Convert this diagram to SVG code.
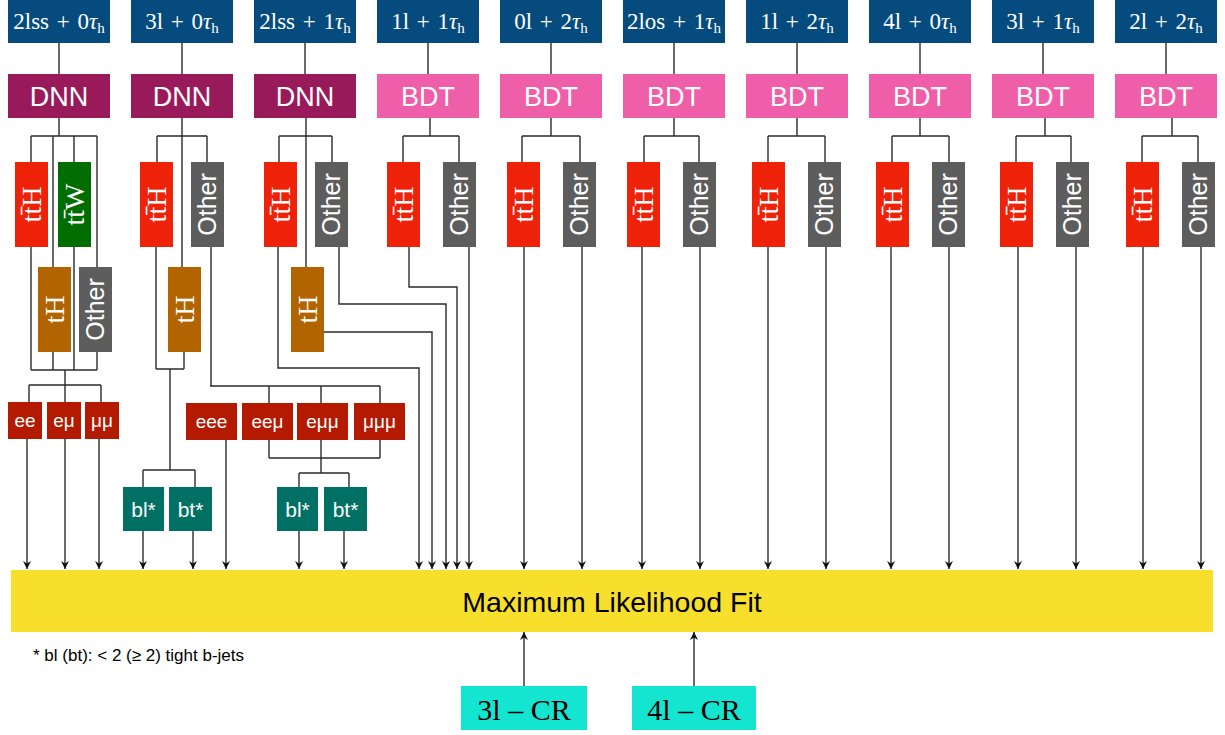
<svg xmlns="http://www.w3.org/2000/svg" width="1225" height="735" viewBox="0 0 1225 735">
<style>
.hdr{fill:#064b7d}
.dnn{fill:#991a5a}
.bdt{fill:#ef5ea8}
.tth{fill:#ee2109}
.ttw{fill:#006d00}
.th{fill:#b26400}
.oth{fill:#5d5d5d}
.ch{fill:#b31a00}
.bj{fill:#007065}
.fit{fill:#f8df2b}
.cr{fill:#14e5d0}
.serif{font-family:"Liberation Serif","Times New Roman",serif}
.sans{font-family:"Liberation Sans",Arial,sans-serif}
.w{fill:#ffffff}
.ht{font-size:23px;text-anchor:middle;word-spacing:2px}
.ct{font-size:27px;text-anchor:middle}
.rs{font-size:28px;text-anchor:middle}
.ro{font-size:25px;text-anchor:middle}
.lt{font-size:19px;text-anchor:middle}
.bt{font-size:21px;text-anchor:middle}
.sub{font-size:15px}
.ln{fill:none;stroke:#2b2b2b;stroke-width:1.4}
.ar{fill:none;stroke:#2b2b2b;stroke-width:1.4;marker-end:url(#ah)}
</style>
<defs>
<marker id="ah" markerUnits="userSpaceOnUse" markerWidth="9" markerHeight="9" refX="8" refY="4" orient="auto">
<path d="M0,0 L8,4 L0,8 L2.5,4 z" fill="#111"/>
</marker>
</defs>
<g id="connectors">
<path class="ln" d="M59 43V74 M182 43V74 M305 43V74 M428 43V74 M551 43V74 M674 43V74 M797 43V74 M920 43V74 M1043 43V74 M1166 43V74"/>
<path class="ln" d="M59 118V136 M31 136H97 M31 136V370 M53 136V370 M74 136V370 M97 136V370 M31 370H97 M65 370V385 M29 385H101 M29 385V402 M65 385V402 M101 385V402"/>
<path class="ar" d="M27 439V569"/>
<path class="ar" d="M65 439V569"/>
<path class="ar" d="M99 439V569"/>
<path class="ln" d="M182 118V267 M157 136H207 M157 136V162 M207 136V162 M156 247V369 M184 352V369 M156 369H184 M170 369V470 M143 470H195 M143 470V487 M195 470V487"/>
<path class="ar" d="M143 531V569"/>
<path class="ar" d="M193 531V569"/>
<path class="ln" d="M211 247V386 M210 386H380 M269 386V403 M321 386V403 M380 386V403 M269 440V458 M380 440V458 M269 458H380 M321 440V473 M299 473H349 M299 473V487 M349 473V487"/>
<path class="ar" d="M226 440V569"/>
<path class="ar" d="M299 531V569"/>
<path class="ar" d="M344 531V569"/>
<path class="ln" d="M306 118V267 M279 136H332 M279 136V162 M332 136V162"/>
<path class="ar" d="M278 247V368H419V569"/>
<path class="ar" d="M339 247V304H446V569"/>
<path class="ar" d="M324 332H432V569"/>
<path class="ln" d="M430 118V136 M403 136H459 M403 136V162 M459 136V162"/>
<path class="ar" d="M409 247V287H457V569"/>
<path class="ar" d="M469 247V569"/>
<path class="ln" d="M551 118V136 M522 136H580 M522 136V162 M580 136V162"/>
<path class="ar" d="M524 247V569"/>
<path class="ar" d="M582 247V569"/>
<path class="ln" d="M674 118V136 M644 136H699 M644 136V162 M699 136V162"/>
<path class="ar" d="M642 247V569"/>
<path class="ar" d="M700 247V569"/>
<path class="ln" d="M797 118V136 M768 136H825 M768 136V162 M825 136V162"/>
<path class="ar" d="M768 247V569"/>
<path class="ar" d="M826 247V569"/>
<path class="ln" d="M920 118V136 M892 136H949 M892 136V162 M949 136V162"/>
<path class="ar" d="M891 247V569"/>
<path class="ar" d="M949 247V569"/>
<path class="ln" d="M1045 118V136 M1016 136H1071 M1016 136V162 M1071 136V162"/>
<path class="ar" d="M1018 247V569"/>
<path class="ar" d="M1076 247V569"/>
<path class="ln" d="M1172 118V136 M1142 136H1198 M1142 136V162 M1198 136V162"/>
<path class="ar" d="M1143 247V569"/>
<path class="ar" d="M1201 247V569"/>
<path class="ar" d="M524 686V632"/>
<path class="ar" d="M694 686V632"/>
</g>
<g id="h1"><rect class="hdr" x="8" y="0" width="102" height="43"/><text class="serif w ht" x="59" y="29">2lss + 0<tspan font-style="italic">τ</tspan><tspan class="sub" dy="4">h</tspan></text></g>
<g id="h2"><rect class="hdr" x="131" y="0" width="102" height="43"/><text class="serif w ht" x="182" y="29">3l + 0<tspan font-style="italic">τ</tspan><tspan class="sub" dy="4">h</tspan></text></g>
<g id="h3"><rect class="hdr" x="254" y="0" width="102" height="43"/><text class="serif w ht" x="305" y="29">2lss + 1<tspan font-style="italic">τ</tspan><tspan class="sub" dy="4">h</tspan></text></g>
<g id="h4"><rect class="hdr" x="377" y="0" width="102" height="43"/><text class="serif w ht" x="428" y="29">1l + 1<tspan font-style="italic">τ</tspan><tspan class="sub" dy="4">h</tspan></text></g>
<g id="h5"><rect class="hdr" x="500" y="0" width="102" height="43"/><text class="serif w ht" x="551" y="29">0l + 2<tspan font-style="italic">τ</tspan><tspan class="sub" dy="4">h</tspan></text></g>
<g id="h6"><rect class="hdr" x="623" y="0" width="102" height="43"/><text class="serif w ht" x="674" y="29">2los + 1<tspan font-style="italic">τ</tspan><tspan class="sub" dy="4">h</tspan></text></g>
<g id="h7"><rect class="hdr" x="746" y="0" width="102" height="43"/><text class="serif w ht" x="797" y="29">1l + 2<tspan font-style="italic">τ</tspan><tspan class="sub" dy="4">h</tspan></text></g>
<g id="h8"><rect class="hdr" x="869" y="0" width="102" height="43"/><text class="serif w ht" x="920" y="29">4l + 0<tspan font-style="italic">τ</tspan><tspan class="sub" dy="4">h</tspan></text></g>
<g id="h9"><rect class="hdr" x="992" y="0" width="102" height="43"/><text class="serif w ht" x="1043" y="29">3l + 1<tspan font-style="italic">τ</tspan><tspan class="sub" dy="4">h</tspan></text></g>
<g id="h10"><rect class="hdr" x="1115" y="0" width="102" height="43"/><text class="serif w ht" x="1166" y="29">2l + 2<tspan font-style="italic">τ</tspan><tspan class="sub" dy="4">h</tspan></text></g>
<g id="c1"><rect class="dnn" x="8" y="74" width="102" height="44"/><text class="sans w ct" x="59" y="106">DNN</text></g>
<g id="c2"><rect class="dnn" x="131" y="74" width="102" height="44"/><text class="sans w ct" x="182" y="106">DNN</text></g>
<g id="c3"><rect class="dnn" x="254" y="74" width="102" height="44"/><text class="sans w ct" x="305" y="106">DNN</text></g>
<g id="c4"><rect class="bdt" x="377" y="74" width="102" height="44"/><text class="sans w ct" x="428" y="106">BDT</text></g>
<g id="c5"><rect class="bdt" x="500" y="74" width="102" height="44"/><text class="sans w ct" x="551" y="106">BDT</text></g>
<g id="c6"><rect class="bdt" x="623" y="74" width="102" height="44"/><text class="sans w ct" x="674" y="106">BDT</text></g>
<g id="c7"><rect class="bdt" x="746" y="74" width="102" height="44"/><text class="sans w ct" x="797" y="106">BDT</text></g>
<g id="c8"><rect class="bdt" x="869" y="74" width="102" height="44"/><text class="sans w ct" x="920" y="106">BDT</text></g>
<g id="c9"><rect class="bdt" x="992" y="74" width="102" height="44"/><text class="sans w ct" x="1043" y="106">BDT</text></g>
<g id="c10"><rect class="bdt" x="1115" y="74" width="102" height="44"/><text class="sans w ct" x="1166" y="106">BDT</text></g>
<g id="c1-tth"><rect class="tth" x="15" y="162" width="33" height="85"/><text class="serif w rs" transform="translate(41 204.5) rotate(-90)">tt̄H</text></g>
<g id="c1-ttw"><rect class="ttw" x="58" y="162" width="33" height="85"/><text class="serif w rs" transform="translate(84 204.5) rotate(-90)">tt̄W</text></g>
<g id="c1-th"><rect class="th" x="38" y="267" width="33" height="85"/><text class="serif w rs" transform="translate(64 309.5) rotate(-90)">tH</text></g>
<g id="c1-oth"><rect class="oth" x="79" y="267" width="33" height="85"/><text class="sans w ro" transform="translate(104 309.5) rotate(-90)">Other</text></g>
<g id="c2-tth"><rect class="tth" x="140" y="162" width="33" height="85"/><text class="serif w rs" transform="translate(166 204.5) rotate(-90)">tt̄H</text></g>
<g id="c2-oth"><rect class="oth" x="191" y="162" width="33" height="85"/><text class="sans w ro" transform="translate(216 204.5) rotate(-90)">Other</text></g>
<g id="c2-th"><rect class="th" x="168" y="267" width="33" height="85"/><text class="serif w rs" transform="translate(194 309.5) rotate(-90)">tH</text></g>
<g id="c3-tth"><rect class="tth" x="264" y="162" width="33" height="85"/><text class="serif w rs" transform="translate(290 204.5) rotate(-90)">tt̄H</text></g>
<g id="c3-oth"><rect class="oth" x="315" y="162" width="33" height="85"/><text class="sans w ro" transform="translate(340 204.5) rotate(-90)">Other</text></g>
<g id="c3-th"><rect class="th" x="291" y="267" width="33" height="85"/><text class="serif w rs" transform="translate(317 309.5) rotate(-90)">tH</text></g>
<g id="c4-tth"><rect class="tth" x="387" y="162" width="33" height="85"/><text class="serif w rs" transform="translate(413 204.5) rotate(-90)">tt̄H</text></g>
<g id="c4-oth"><rect class="oth" x="443" y="162" width="33" height="85"/><text class="sans w ro" transform="translate(468 204.5) rotate(-90)">Other</text></g>
<g id="c5-tth"><rect class="tth" x="507" y="162" width="33" height="85"/><text class="serif w rs" transform="translate(533 204.5) rotate(-90)">tt̄H</text></g>
<g id="c5-oth"><rect class="oth" x="563" y="162" width="33" height="85"/><text class="sans w ro" transform="translate(588 204.5) rotate(-90)">Other</text></g>
<g id="c6-tth"><rect class="tth" x="627" y="162" width="33" height="85"/><text class="serif w rs" transform="translate(653 204.5) rotate(-90)">tt̄H</text></g>
<g id="c6-oth"><rect class="oth" x="683" y="162" width="33" height="85"/><text class="sans w ro" transform="translate(708 204.5) rotate(-90)">Other</text></g>
<g id="c7-tth"><rect class="tth" x="752" y="162" width="33" height="85"/><text class="serif w rs" transform="translate(778 204.5) rotate(-90)">tt̄H</text></g>
<g id="c7-oth"><rect class="oth" x="808" y="162" width="33" height="85"/><text class="sans w ro" transform="translate(833 204.5) rotate(-90)">Other</text></g>
<g id="c8-tth"><rect class="tth" x="876" y="162" width="33" height="85"/><text class="serif w rs" transform="translate(902 204.5) rotate(-90)">tt̄H</text></g>
<g id="c8-oth"><rect class="oth" x="932" y="162" width="33" height="85"/><text class="sans w ro" transform="translate(957 204.5) rotate(-90)">Other</text></g>
<g id="c9-tth"><rect class="tth" x="1000" y="162" width="33" height="85"/><text class="serif w rs" transform="translate(1026 204.5) rotate(-90)">tt̄H</text></g>
<g id="c9-oth"><rect class="oth" x="1056" y="162" width="33" height="85"/><text class="sans w ro" transform="translate(1081 204.5) rotate(-90)">Other</text></g>
<g id="c10-tth"><rect class="tth" x="1126" y="162" width="33" height="85"/><text class="serif w rs" transform="translate(1152 204.5) rotate(-90)">tt̄H</text></g>
<g id="c10-oth"><rect class="oth" x="1182" y="162" width="33" height="85"/><text class="sans w ro" transform="translate(1207 204.5) rotate(-90)">Other</text></g>
<g id="ee"><rect class="ch" x="8" y="402" width="34" height="37"/><text class="sans w lt" x="25" y="427">ee</text></g>
<g id="emu"><rect class="ch" x="47" y="402" width="34" height="37"/><text class="sans w lt" x="64" y="427">eμ</text></g>
<g id="mumu"><rect class="ch" x="85" y="402" width="34" height="37"/><text class="sans w lt" x="102" y="427">μμ</text></g>
<g id="eee"><rect class="ch" x="186" y="403" width="51" height="37"/><text class="sans w lt" x="211.5" y="428">eee</text></g>
<g id="eemu"><rect class="ch" x="242" y="403" width="51" height="37"/><text class="sans w lt" x="267.5" y="428">eeμ</text></g>
<g id="emumu"><rect class="ch" x="297" y="403" width="51" height="37"/><text class="sans w lt" x="322.5" y="428">eμμ</text></g>
<g id="mumumu"><rect class="ch" x="354" y="403" width="51" height="37"/><text class="sans w lt" x="379.5" y="428">μμμ</text></g>
<g id="bl1"><rect class="bj" x="123" y="487" width="41" height="44"/><text class="sans w bt" x="143.5" y="517">bl*</text></g>
<g id="bt1"><rect class="bj" x="169" y="487" width="43" height="44"/><text class="sans w bt" x="190.5" y="517">bt*</text></g>
<g id="bl2"><rect class="bj" x="277" y="487" width="41" height="44"/><text class="sans w bt" x="297.5" y="517">bl*</text></g>
<g id="bt2"><rect class="bj" x="324" y="487" width="43" height="44"/><text class="sans w bt" x="345.5" y="517">bt*</text></g>
<g id="fit"><rect class="fit" x="11" y="570" width="1202" height="62"/><text class="sans" x="612" y="612" font-size="28.5" text-anchor="middle" fill="#000">Maximum Likelihood Fit</text></g>
<text class="sans" x="33" y="661" font-size="17" fill="#000">* bl (bt): &lt; 2 (≥ 2) tight b-jets</text>
<g id="cr3"><rect class="cr" x="461" y="686" width="126" height="44"/><text class="serif" x="524" y="720" font-size="30" text-anchor="middle" fill="#000">3l – CR</text></g>
<g id="cr4"><rect class="cr" x="632" y="686" width="124" height="44"/><text class="serif" x="694" y="720" font-size="30" text-anchor="middle" fill="#000">4l – CR</text></g>
</svg>
